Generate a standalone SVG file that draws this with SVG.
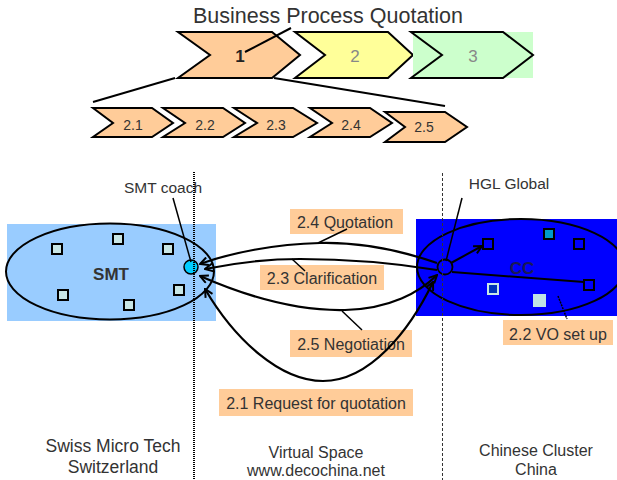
<svg xmlns="http://www.w3.org/2000/svg" width="617" height="480" viewBox="0 0 617 480">
<defs>
<style>
text{font-family:"Liberation Sans",Arial,sans-serif;fill:#333}
.chev{stroke:#000;stroke-width:2;stroke-linejoin:miter}
.peach{fill:#FFCC99}
.lbl{fill:#FFCC99;stroke:none}
.lt{font-size:16px;text-anchor:middle}
.sq{stroke:#000;stroke-width:2}
.curve{fill:none;stroke:#000;stroke-width:2.2}
.ptr{fill:none;stroke:#000;stroke-width:1.5}
.ln{stroke:#000;stroke-width:2}
.foot{font-size:16px;text-anchor:middle}
.foot.big{font-size:17.5px}
</style>
<marker id="ah" viewBox="0 0 10 10" refX="9" refY="5" markerWidth="10" markerHeight="10" markerUnits="userSpaceOnUse" orient="auto-start-reverse">
<path d="M1,1 L9,5 L1,9" fill="none" stroke="#000" stroke-width="2"/>
</marker>
</defs>
<rect width="617" height="480" fill="#fff"/>

<text x="328" y="23" font-size="21.5" text-anchor="middle">Business Process Quotation</text>

<g id="chevron-1">
<polygon class="chev peach" points="178,32 272,32 300,55 272,78 178,78 210,55"/>
<text x="240" y="62" font-size="17" font-weight="bold" text-anchor="middle" style="fill:#222">1</text>
</g>
<g id="chevron-2">
<polygon class="chev" fill="#FFFF99" points="295,32 388,32 413,55 388,78 295,78 325,55"/>
<text x="355" y="62" font-size="17" text-anchor="middle" style="fill:#888">2</text>
</g>
<g id="chevron-3">
<rect x="413" y="32" width="120" height="46" fill="#CCFFCC"/>
<polygon class="chev" fill="#CCFFCC" points="411,32 503,32 533,55 503,78 411,78 442,55"/>
<text x="473" y="62" font-size="17" text-anchor="middle" style="fill:#888">3</text>
</g>

<g id="chevron-2-1">
<polygon class="chev peach" points="93,108 152,108 173,123 152,137 93,137 113,123"/>
<text x="133" y="130" font-size="14" text-anchor="middle">2.1</text>
</g>
<g id="chevron-2-2">
<polygon class="chev peach" points="163,108 223,108 245,123 223,137 163,137 185,123"/>
<text x="205" y="130" font-size="14" text-anchor="middle">2.2</text>
</g>
<g id="chevron-2-3">
<polygon class="chev peach" points="234,108 293,108 317,123 293,137 234,137 257,123"/>
<text x="276" y="130" font-size="14" text-anchor="middle">2.3</text>
</g>
<g id="chevron-2-4">
<polygon class="chev peach" points="310,108 370,108 392,123 370,137 310,137 332,123"/>
<text x="351" y="130" font-size="14" text-anchor="middle">2.4</text>
</g>
<g id="chevron-2-5">
<polygon class="chev peach" points="385,112 445,112 467,127 445,142 385,142 405,127"/>
<text x="424" y="132" font-size="14" text-anchor="middle">2.5</text>
</g>

<g id="smt">
<rect x="7" y="224" width="209" height="97" fill="#99CCFF"/>
<ellipse cx="110" cy="271.5" rx="104" ry="48" fill="none" stroke="#000" stroke-width="2"/>
<g fill="#C8E6E6">
<rect class="sq" x="113" y="234" width="10" height="10"/>
<rect class="sq" x="52" y="244" width="10" height="10"/>
<rect class="sq" x="163" y="244" width="10" height="10"/>
<rect class="sq" x="58" y="290" width="10" height="10"/>
<rect class="sq" x="174" y="285" width="10" height="10"/>
<rect class="sq" x="124" y="300" width="10" height="10"/>
</g>
<text x="111" y="280" font-size="17" font-weight="bold" text-anchor="middle">SMT</text>
</g>

<g id="cc">
<rect x="416" y="219" width="201" height="97" fill="#0000FF"/>
<ellipse cx="521" cy="267" rx="104" ry="48" fill="none" stroke="#000" stroke-width="2"/>
<rect class="sq" x="483" y="239" width="10" height="10" fill="#0000FF"/>
<rect class="sq" x="544" y="229" width="10" height="10" fill="#0099CC"/>
<rect class="sq" x="574" y="239" width="10" height="10" fill="#0000FF"/>
<rect class="sq" x="584" y="280" width="10" height="10" fill="#0000FF"/>
<rect x="488" y="284" width="10" height="10" fill="#0033BB" stroke="#C8E6E6" stroke-width="2"/>
<rect x="533" y="294" width="13" height="13" fill="#C0E4E4"/>
<text x="522" y="274" font-size="17" font-weight="bold" text-anchor="middle" style="fill:#1A1A55">CC</text>
</g>

<g id="smt-coach">
<text x="163" y="193" font-size="15.5" text-anchor="middle">SMT coach</text>
<circle cx="191" cy="267" r="7" fill="#00CCFF" stroke="#000" stroke-width="1.5"/>
</g>
<g id="hgl-global">
<text x="509" y="189" font-size="15.5" text-anchor="middle">HGL Global</text>
<circle cx="445" cy="267" r="7.5" fill="none" stroke="#000" stroke-width="1.8"/>
</g>

<g id="dividers">
<line x1="194" y1="172" x2="194" y2="480" stroke="#000" stroke-width="2" stroke-dasharray="1 1"/>
<line x1="442.5" y1="173" x2="442.5" y2="480" stroke="#333" stroke-width="1" stroke-dasharray="3 2"/>
</g>

<g id="labels">
<rect class="lbl" x="290" y="209" width="113" height="25"/>
<text class="lt" x="345" y="228">2.4 Quotation</text>
<rect class="lbl" x="260" y="265" width="124" height="25"/>
<text class="lt" x="322" y="284">2.3 Clarification</text>
<rect class="lbl" x="290" y="330" width="122" height="27"/>
<text class="lt" x="351" y="350">2.5 Negotiation</text>
<rect class="lbl" x="219" y="389" width="194" height="27"/>
<text class="lt" x="316" y="409">2.1 Request for quotation</text>
<rect class="lbl" x="503" y="320" width="110" height="25"/>
<text class="lt" x="558" y="340">2.2 VO set up</text>
</g>

<g id="connectors">
<line class="ln" x1="245" y1="52" x2="291" y2="28"/>
<line class="ln" x1="175" y1="78" x2="93" y2="102"/>
<line class="ln" x1="274" y1="78" x2="445" y2="106"/>
<line class="ptr" x1="173" y1="198" x2="191" y2="262"/>
<line class="ptr" x1="462" y1="198" x2="446" y2="261"/>
<path class="curve" marker-end="url(#ah)" d="M437,263 C405,252 365,242 320,243 C275,244 230,253 200,264"/>
<path class="curve" marker-end="url(#ah)" d="M437,270 C400,264 350,259 300,259 C260,259 230,264 205,269"/>
<path class="curve" marker-start="url(#ah)" marker-end="url(#ah)" d="M200,276 C250,298 300,311 345,310 C390,309 420,292 437,275"/>
<path class="curve" marker-start="url(#ah)" marker-end="url(#ah)" d="M205,289 C235,340 280,381 323,381 C370,381 410,330 433,282"/>
<line class="ln" marker-end="url(#ah)" x1="451" y1="263" x2="482" y2="246"/>
<line class="ln" x1="452" y1="272" x2="584" y2="282"/>
<line class="ptr" x1="347" y1="229" x2="318" y2="243"/>
<line class="ptr" x1="292" y1="259" x2="305" y2="271"/>
<line class="ptr" x1="342" y1="311" x2="362" y2="330"/>
<line class="ptr" x1="558" y1="296" x2="567" y2="319" stroke-dasharray="2 1"/>
</g>

<g id="footer">
<text class="foot big" x="113" y="452">Swiss Micro Tech</text>
<text class="foot big" x="113" y="473">Switzerland</text>
<text class="foot" x="316" y="458">Virtual Space</text>
<text class="foot" x="316" y="476">www.decochina.net</text>
<text class="foot" x="536" y="456">Chinese Cluster</text>
<text class="foot" x="536" y="475">China</text>
</g>
</svg>
